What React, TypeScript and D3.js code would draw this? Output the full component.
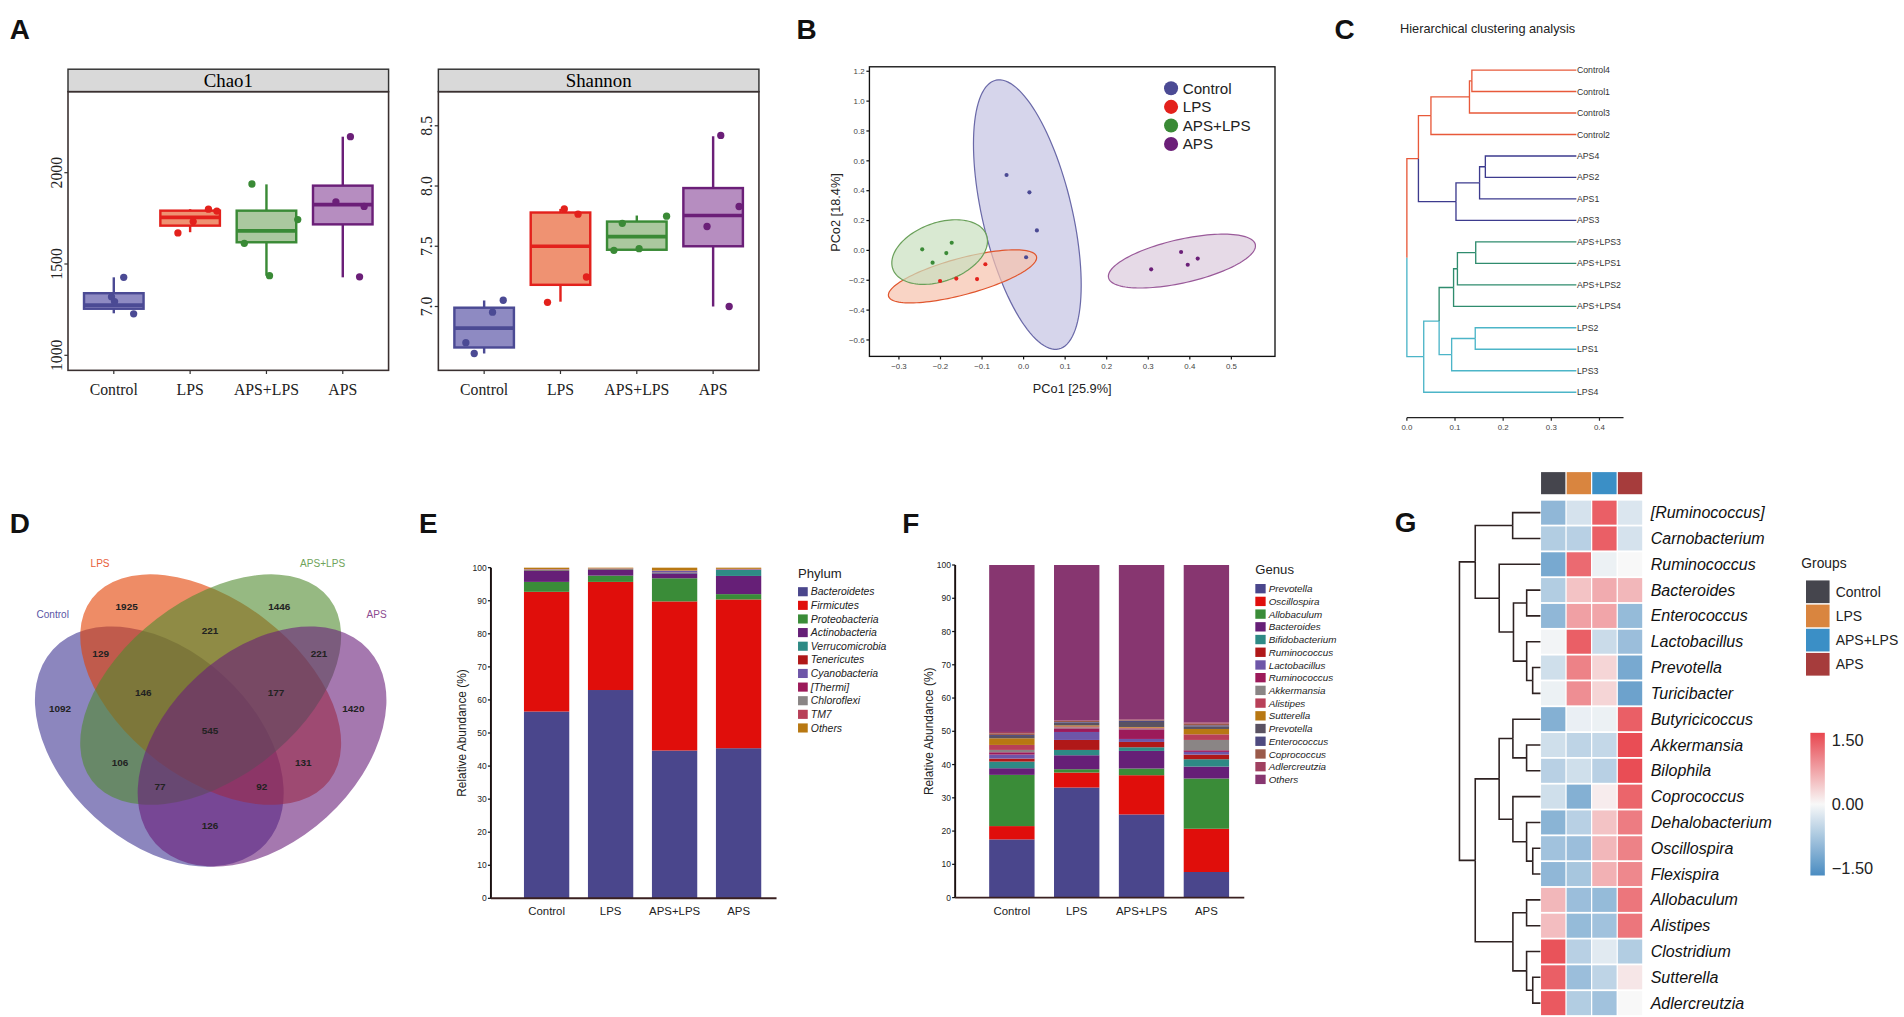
import React from "react";
import * as d3 from "d3";

// ---------- shared
const groups = ["Control", "LPS", "APS+LPS", "APS"];

// ---------- A: alpha diversity  [low whisker, Q1, median, Q3, high whisker]
const chao1Box = [
  [1230, 1255, 1275, 1340, 1427],
  [1674, 1710, 1755, 1792, 1800],
  [1436, 1619, 1681, 1792, 1936],
  [1427, 1717, 1825, 1929, 2197],
];
const chao1Dots = [
  [1427, 1320, 1294, 1227],
  [1670, 1732, 1800, 1790],
  [1938, 1743, 1613, 1436],
  [2197, 1840, 1815, 1430],
];
const chao1Jitter = [
  [0.13, -0.03, 0.01, 0.26],
  [-0.16, 0.04, 0.24, 0.35],
  [-0.19, 0.41, -0.29, 0.04],
  [0.1, -0.09, 0.28, 0.22],
];
const chao1Ticks = [1000, 1500, 2000];

const shannonBox = [
  [6.61, 6.66, 6.82, 6.99, 7.05],
  [7.04, 7.18, 7.5, 7.78, 7.81],
  [7.466, 7.471, 7.58, 7.705, 7.755],
  [7.0, 7.5, 7.755, 7.983, 8.413],
];
const shannonDots = [
  [7.052, 6.953, 6.7, 6.61],
  [7.81, 7.766, 7.245, 7.035],
  [7.69, 7.466, 7.48, 7.75],
  [8.42, 7.83, 7.664, 7.0],
];
const shannonJitter = [
  [0.25, 0.11, -0.24, -0.13],
  [0.05, 0.23, 0.34, -0.17],
  [-0.19, -0.3, 0.03, 0.39],
  [0.1, 0.34, -0.08, 0.21],
];
const shannonTicks = [7.0, 7.5, 8.0, 8.5];

// ---------- B: PCoA  [PCo1, PCo2]
const pcoaPoints = [
  [[-0.041, 0.505], [0.014, 0.389], [0.032, 0.134], [0.006, -0.046]],
  [[-0.201, -0.205], [-0.162, -0.189], [-0.112, -0.192], [-0.092, -0.093]],
  [[-0.244, 0.007], [-0.173, 0.051], [-0.186, -0.018], [-0.219, -0.082]],
  [[0.379, -0.011], [0.307, -0.127], [0.395, -0.096], [0.419, -0.055]],
];
// confidence ellipses: centre and two conjugate semi-axes, in PCo units
const pcoaEllipses = [
  { c: [0.009, 0.24], u: [-0.076, 0.9], v: [0.105, 0.069] },
  { c: [-0.147, -0.174], u: [0.178, 0.133], v: [0.0114, -0.118] },
  { c: [-0.202, -0.011], u: [0.1126, 0.114], v: [0.024, -0.184] },
  { c: [0.381, -0.0715], u: [0.1766, 0.1114], v: [0.0117, -0.142] },
];
const pcoXTicks = [-0.3, -0.2, -0.1, 0, 0.1, 0.2, 0.3, 0.4, 0.5];
const pcoYTicks = [-0.6, -0.4, -0.2, 0, 0.2, 0.4, 0.6, 0.8, 1.0, 1.2];

// ---------- C: hierarchical clustering of samples (h = distance from root)
const leafHeight = 0.352;
const sampleTree = {
  h: 0,
  c: [
    {
      h: 0.024, g: "Control",
      c: [
        { h: 0.05, c: [{ h: 0.13, c: [{ h: 0.135, c: [{ n: "Control4" }, { n: "Control1" }] }, { n: "Control3" }] }, { n: "Control2" }] },
        { h: 0.102, c: [{ h: 0.151, c: [{ h: 0.163, c: [{ n: "APS4" }, { n: "APS2" }] }, { n: "APS1" }] }, { n: "APS3" }] },
      ],
    },
    {
      h: 0.035, g: "LPS",
      c: [
        {
          h: 0.067, g: "LPS",
          c: [
            { h: 0.097, c: [{ h: 0.105, c: [{ h: 0.143, c: [{ n: "APS+LPS3" }, { n: "APS+LPS1" }] }, { n: "APS+LPS2" }] }, { n: "APS+LPS4" }] },
            { h: 0.093, c: [{ h: 0.142, c: [{ n: "LPS2" }, { n: "LPS1" }] }, { n: "LPS3" }] },
          ],
        },
        { n: "LPS4" },
      ],
    },
  ],
};
const clusterTicks = [0, 0.1, 0.2, 0.3, 0.4];

// ---------- D: Venn counts
const vennRegions = ["C", "L", "G", "A", "CL", "LG", "GA", "CG", "LA", "CA", "CLG", "LGA", "CGA", "CLA", "CLGA"];
const vennCounts = [1092, 1925, 1446, 1420, 129, 221, 221, 106, 131, 126, 146, 177, 77, 92, 545];

// ---------- E: phylum relative abundance (%)
const phyla = ["Bacteroidetes", "Firmicutes", "Proteobacteria", "Actinobacteria", "Verrucomicrobia", "Tenericutes", "Cyanobacteria", "[Thermi]", "Chloroflexi", "TM7", "Others"];
const phylumAbundance = [
  [56.5, 36.2, 3.0, 3.3, 0.2, 0.1, 0.1, 0.05, 0.05, 0.05, 0.45],
  [63.0, 32.7, 1.9, 1.7, 0.2, 0.1, 0.05, 0.05, 0.05, 0.05, 0.2],
  [44.7, 45.1, 7.0, 1.5, 0.2, 0.1, 0.4, 0.05, 0.05, 0.05, 0.85],
  [45.4, 45.0, 1.6, 5.5, 1.8, 0.1, 0.1, 0.05, 0.05, 0.05, 0.35],
];

// ---------- F: genus relative abundance (%)
const genera = ["Prevotella", "Oscillospira", "Allobaculum", "Bacteroides", "Bifidobacterium", "Ruminococcus", "Lactobacillus", "Ruminococcus", "Akkermansia", "Alistipes", "Sutterella", "Prevotella", "Enterococcus", "Coprococcus", "Adlercreutzia", "Others"];
const genusAbundance = [
  [17.5, 4.0, 15.4, 2.0, 2.0, 0.9, 1.2, 0.7, 0.7, 1.5, 2.0, 0.7, 0.3, 0.5, 0.4, 50.2],
  [33.1, 4.5, 1.0, 4.2, 1.6, 3.0, 2.4, 1.1, 0.3, 0.3, 0.3, 0.8, 0.2, 0.3, 0.2, 46.7],
  [25.0, 11.8, 2.0, 5.3, 1.1, 1.6, 0.9, 2.9, 0.2, 0.3, 0.2, 1.5, 0.4, 0.2, 0.2, 46.4],
  [7.7, 13.0, 15.1, 3.6, 2.2, 1.4, 0.8, 0.5, 3.1, 1.7, 1.6, 0.8, 0.3, 0.5, 0.4, 47.3],
];
const abundanceTicks = [0, 10, 20, 30, 40, 50, 60, 70, 80, 90, 100];

// ---------- G: heatmap (row z-scores, columns = groups)
const heatRows = ["[Ruminococcus]", "Carnobacterium", "Ruminococcus", "Bacteroides", "Enterococcus", "Lactobacillus", "Prevotella", "Turicibacter", "Butyricicoccus", "Akkermansia", "Bilophila", "Coprococcus", "Dehalobacterium", "Oscillospira", "Flexispira", "Allobaculum", "Alistipes", "Clostridium", "Sutterella", "Adlercreutzia"];
const heatValues = [
  [-0.9, -0.3, 1.3, -0.25],
  [-0.6, -0.55, 1.3, -0.3],
  [-1.1, 1.2, -0.1, 0.0],
  [-0.6, 0.45, 0.65, 0.55],
  [-0.9, 0.75, 0.7, -0.85],
  [-0.05, 1.3, -0.4, -0.8],
  [-0.35, 1.0, 0.3, -1.1],
  [-0.1, 0.9, 0.3, -1.2],
  [-1.0, -0.12, -0.1, 1.3],
  [-0.35, -0.5, -0.45, 1.45],
  [-0.55, -0.35, -0.55, 1.45],
  [-0.35, -1.0, 0.1, 1.25],
  [-0.95, -0.55, 0.45, 1.05],
  [-0.75, -0.8, 0.55, 1.0],
  [-0.9, -0.7, 0.6, 0.95],
  [0.55, -0.8, -0.85, 1.1],
  [0.5, -0.85, -0.75, 1.1],
  [1.4, -0.55, -0.2, -0.6],
  [1.3, -0.8, -0.5, 0.15],
  [1.35, -0.6, -0.75, 0.0],
];
// row dendrogram, h = merge height
const genusTree = {
  h: 10,
  c: [
    {
      h: 8.05,
      c: [
        { h: 3.43, c: ["[Ruminococcus]", "Carnobacterium"] },
        {
          h: 5.09,
          c: [
            "Ruminococcus",
            { h: 3.33, c: [{ h: 1.7, c: ["Bacteroides", "Enterococcus"] }, { h: 1.7, c: ["Lactobacillus", { h: 0.96, c: ["Prevotella", "Turicibacter"] }] }] },
          ],
        },
      ],
    },
    {
      h: 8.05,
      c: [
        {
          h: 5.1,
          c: [
            { h: 3.4, c: ["Butyricicoccus", { h: 1.71, c: ["Akkermansia", "Bilophila"] }] },
            { h: 3.4, c: ["Coprococcus", { h: 1.71, c: ["Dehalobacterium", { h: 0.95, c: ["Oscillospira", "Flexispira"] }] }] },
          ],
        },
        { h: 3.4, c: [{ h: 1.71, c: ["Allobaculum", "Alistipes"] }, { h: 1.71, c: ["Clostridium", { h: 0.95, c: ["Sutterella", "Adlercreutzia"] }] }] },
      ],
    },
  ],
};
const zLegend = [1.5, 0, -1.5];

// ---------- styles
const serif = "'Liberation Serif', 'Times New Roman', serif";
const sans = "'Liberation Sans', Arial, sans-serif";
const groupColor = ["#4b4a94", "#e3211c", "#3a8a36", "#6b1f78"];
const boxFill = ["#8e8ac2", "#ef9272", "#abc89f", "#b68dc0"];
const ellFill = ["#c4c3e2", "#f6c2ad", "#c9e0bf", "#dccbdd"];
const ellStroke = ["#6a69a8", "#e0562e", "#6aa05a", "#9a5a9a"];
const clusterColor: Record<string, string> = { Control: "#e8593a", APS: "#3d3b8e", "APS+LPS": "#2f8c6e", LPS: "#4cb5c8" };
const phylumColor = ["#4a468c", "#e00e0b", "#3a8c38", "#661f77", "#2e8a85", "#b01818", "#6e56a8", "#9c1a5a", "#8a8585", "#b84058", "#b87812"];
const genusColor = ["#4a468c", "#e00e0b", "#3a8c38", "#661f77", "#2e8a85", "#b01818", "#6e56a8", "#9c1a5a", "#8a8585", "#b84058", "#b87812", "#5a5262", "#4e4a80", "#9a5a4a", "#a04060", "#873670"];
const headColor = ["#45454d", "#d9853f", "#3b8fc6", "#a63c3c"];
const zColor = d3.scaleLinear<string>().domain([-1.5, 0, 1.5]).range(["#4a8cc1", "#f8f8f8", "#e8474f"]).clamp(true);

// lay a tree out with d3.cluster, then stretch so first/last leaf hit [y0, y1]
function layoutTree(data: any, children: (d: any) => any, y0: number, y1: number) {
  const root = d3.hierarchy<any>(data, children);
  d3.cluster<any>().size([1, 1]).separation(() => 1)(root);
  const leaves = root.leaves();
  const ys = d3.scaleLinear().domain([leaves[0].x as number, leaves[leaves.length - 1].x as number]).range([y0, y1]);
  root.each((n: any) => { n.py = ys(n.x); });
  return root;
}

function AlphaPanel({ x0, title, box, dots, jitter, domain, ticks, fmt }: any) {
  const w = 264, head = 57, top = 75.5, bottom = 305;
  const x = d3.scaleLinear().domain([0.4, 4.6]).range([x0, x0 + w]);
  const y = d3.scaleLinear().domain(domain).range([bottom, top]);
  const hw = 0.39;
  return (
    <g>
      <rect x={x0} y={head} width={w} height={top - head} fill="#d9d9d9" stroke="#333" strokeWidth={1.2} />
      <text x={x0 + w / 2} y={(head + top) / 2 + 5.5} textAnchor="middle" fontFamily={serif} fontSize={15.5}>{title}</text>
      {ticks.map((t: number) => (
        <g key={t}>
          <line x1={x0 - 3} x2={x0} y1={y(t)} y2={y(t)} stroke="#333" strokeWidth={1} />
          <text transform={`translate(${x0 - 5},${y(t)}) rotate(-90)`} textAnchor="middle" fontFamily={serif} fontSize={13} fill="#222">{fmt(t)}</text>
        </g>
      ))}
      {groups.map((g, i) => {
        const cx = x(i + 1);
        const [lo, q1, md, q3, hi] = box[i];
        const col = groupColor[i];
        return (
          <g key={g}>
            <line x1={cx} x2={cx} y1={y(hi)} y2={y(q3)} stroke={col} strokeWidth={2} />
            <line x1={cx} x2={cx} y1={y(q1)} y2={y(lo)} stroke={col} strokeWidth={2} />
            <rect x={x(i + 1 - hw)} y={y(q3)} width={x(i + 1 + hw) - x(i + 1 - hw)} height={y(q1) - y(q3)} fill={boxFill[i]} stroke={col} strokeWidth={2} />
            <line x1={x(i + 1 - hw)} x2={x(i + 1 + hw)} y1={y(md)} y2={y(md)} stroke={col} strokeWidth={3} />
            {dots[i].map((v: number, j: number) => (
              <circle key={j} cx={x(i + 1 + jitter[i][j])} cy={y(v)} r={3} fill={col} />
            ))}
            <line x1={cx} x2={cx} y1={bottom} y2={bottom + 3} stroke="#333" />
            <text x={cx} y={bottom + 20} textAnchor="middle" fontFamily={serif} fontSize={13} fill="#222">{g}</text>
          </g>
        );
      })}
      <rect x={x0} y={top} width={w} height={bottom - top} fill="none" stroke="#3a3030" strokeWidth={1.3} />
    </g>
  );
}

function PcoaPanel() {
  const x = d3.scaleLinear().domain([-0.371, 0.605]).range([716, 1050]);
  const y = d3.scaleLinear().domain([-0.71, 1.23]).range([293.5, 55]);
  const line = d3.line<number[]>().x((p) => x(p[0])).y((p) => y(p[1])).curve(d3.curveLinearClosed);
  const ts = d3.range(0, 2 * Math.PI, Math.PI / 60);
  return (
    <g fontFamily={sans}>
      {pcoaEllipses.map((e, i) => {
        const pts = ts.map((t) => [e.c[0] + e.u[0] * Math.cos(t) + e.v[0] * Math.sin(t), e.c[1] + e.u[1] * Math.cos(t) + e.v[1] * Math.sin(t)]);
        return <path key={i} d={line(pts) || ""} fill={ellFill[i]} fillOpacity={0.7} stroke={ellStroke[i]} strokeWidth={1} />;
      })}
      {pcoaPoints.map((ps, i) => ps.map((p, j) => <circle key={i + "-" + j} cx={x(p[0])} cy={y(p[1])} r={1.7} fill={groupColor[i]} />))}
      <rect x={716} y={55} width={334} height={238.5} fill="none" stroke="#111" strokeWidth={1.1} />
      {pcoYTicks.map((t) => (
        <g key={t}>
          <line x1={713.5} x2={716} y1={y(t)} y2={y(t)} stroke="#111" />
          <text x={712} y={y(t) + 2.3} textAnchor="end" fontSize={6.5} fill="#444">{d3.format(".1f")(t)}</text>
        </g>
      ))}
      {pcoXTicks.map((t) => (
        <g key={t}>
          <line x1={x(t)} x2={x(t)} y1={293.5} y2={296} stroke="#111" />
          <text x={x(t)} y={304} textAnchor="middle" fontSize={6.5} fill="#444">{d3.format(".1f")(t)}</text>
        </g>
      ))}
      <text transform="translate(692,175) rotate(-90)" textAnchor="middle" fontSize={10.5} fill="#222">PCo2 [18.4%]</text>
      <text x={883} y={324} textAnchor="middle" fontSize={10.5} fill="#222">PCo1 [25.9%]</text>
      {groups.map((g, i) => (
        <g key={g}>
          <circle cx={964.4} cy={72.7 + i * 15.3} r={5.8} fill={groupColor[i]} />
          <text x={974} y={72.7 + i * 15.3 + 4.4} fontSize={12.5} fill="#222">{g}</text>
        </g>
      ))}
    </g>
  );
}

function ClusterPanel() {
  const root = layoutTree(sampleTree, (d) => d.c, 57.7, 323);
  const hx = d3.scaleLinear().domain([0, 0.4]).range([1158.6, 1317.2]);
  const grpOf = (n: any): string => n.data.g || (n.data.n ? n.data.n.replace(/\d+$/, "") : grpOf(n.leaves()[0]));
  const xOf = (n: any) => hx(n.data.n ? leafHeight : n.data.h);
  return (
    <g fontFamily={sans}>
      <text x={1153} y={27} fontSize={10.5} fill="#222">Hierarchical clustering analysis</text>
      {root.descendants().slice(1).map((n: any, i) => (
        <path key={i} d={`M${xOf(n.parent)},${n.parent.py}V${n.py}H${xOf(n)}`} fill="none" stroke={clusterColor[grpOf(n)]} strokeWidth={1.1} />
      ))}
      {root.leaves().map((n: any) => (
        <text key={n.data.n} x={hx(leafHeight) + 0.5} y={n.py + 2.5} fontSize={7.2} fill="#333">{n.data.n}</text>
      ))}
      <line x1={hx(0)} x2={hx(0.45)} y1={344} y2={344} stroke="#222" strokeWidth={1} />
      {clusterTicks.map((t) => (
        <g key={t}>
          <line x1={hx(t)} x2={hx(t)} y1={344} y2={346.5} stroke="#222" />
          <text x={hx(t)} y={354} textAnchor="middle" fontSize={6.5} fill="#444">{d3.format(".1f")(t)}</text>
        </g>
      ))}
    </g>
  );
}

function VennPanel() {
  // fixed four-ellipse layout
  const shapes = [
    { cx: 131.2, cy: 614.8, a: 118.6, b: 78.8, r: 42.4, fill: "#3f3593" },
    { cx: 173.5, cy: 567.9, a: 123.2, b: 73.3, r: 37.5, fill: "#e33f00" },
    { cx: 173.5, cy: 567.9, a: 123.2, b: 73.3, r: -37.5, fill: "#508a2f" },
    { cx: 215.8, cy: 614.8, a: 118.6, b: 78.8, r: -42.4, fill: "#691e7a" },
  ];
  const labelPos: Record<string, number[]> = {
    C: [49.4, 583.4], L: [104.3, 499.6], G: [230, 499.6], A: [291, 583.4],
    CL: [82.9, 538.1], LG: [172.9, 518.9], GA: [262.7, 538.1], CG: [98.8, 628.1], LA: [249.8, 628.1], CA: [172.9, 679.4],
    CLG: [118, 570.2], LGA: [227.3, 570.2], CGA: [131.8, 647.3], CLA: [215.5, 647.3], CLGA: [172.9, 601.8],
  };
  const names = [
    { t: "Control", x: 43.4, y: 506, c: "#5a55a5" },
    { t: "LPS", x: 82.4, y: 464, c: "#e8603a" },
    { t: "APS+LPS", x: 265.7, y: 464, c: "#6fa35a" },
    { t: "APS", x: 310.2, y: 506, c: "#8c4a90" },
  ];
  return (
    <g fontFamily={sans}>
      {shapes.map((s, i) => (
        <ellipse key={i} cx={s.cx} cy={s.cy} rx={s.a} ry={s.b} transform={`rotate(${s.r},${s.cx},${s.cy})`} fill={s.fill} fillOpacity={0.6} />
      ))}
      {names.map((n) => (
        <text key={n.t} x={n.x} y={n.y + 3} textAnchor="middle" fontSize={8.3} fill={n.c}>{n.t}</text>
      ))}
      {vennRegions.map((r, i) => (
        <text key={r} x={labelPos[r][0]} y={labelPos[r][1] + 3} textAnchor="middle" fontSize={8.2} fontWeight="bold" fill="#222">{vennCounts[i]}</text>
      ))}
    </g>
  );
}

function StackPanel({ keys, values, colors, title, axisX, axisEnd, yTop, yBottom, bandRange, pad, legendX, legendTitleY, legendY0, legendStep, swW, swH, itemSize, titleX }: any) {
  const y = d3.scaleLinear().domain([0, 100]).range([yBottom, yTop]);
  const x = d3.scaleBand().domain(groups).range(bandRange).paddingInner(pad).paddingOuter(pad / 2);
  const rows = values.map((v: number[]) => Object.fromEntries(v.map((d, j) => [j, d])));
  const series = d3.stack<any>().keys(keys.map((_: string, j: number) => String(j)))(rows);
  return (
    <g fontFamily={sans}>
      {series.map((s, j) => s.map((d, i) => (
        <rect key={j + "-" + i} x={x(groups[i])} y={y(d[1])} width={x.bandwidth()} height={Math.max(0, y(d[0]) - y(d[1]))} fill={colors[j]} />
      )))}
      <line x1={axisX} x2={axisX} y1={yTop} y2={yBottom} stroke="#1a1010" strokeWidth={1.6} />
      <line x1={axisX} x2={axisEnd} y1={yBottom} y2={yBottom} stroke="#3a2020" strokeWidth={1.6} />
      {abundanceTicks.map((t) => (
        <g key={t}>
          <line x1={axisX - 2.5} x2={axisX} y1={y(t)} y2={y(t)} stroke="#111" />
          <text x={axisX - 3.5} y={y(t) + 2.5} textAnchor="end" fontSize={7} fill="#222">{t}</text>
        </g>
      ))}
      {groups.map((g) => (
        <text key={g} x={(x(g) || 0) + x.bandwidth() / 2} y={yBottom + 14} textAnchor="middle" fontSize={9.4} fill="#222">{g}</text>
      ))}
      <text transform={`translate(${titleX},${(yTop + yBottom) / 2}) rotate(-90)`} textAnchor="middle" fontSize={9.8} fill="#222">Relative Abundance (%)</text>
      <text x={legendX} y={legendTitleY} fontSize={10.8} fill="#222">{title}</text>
      {keys.map((k: string, j: number) => (
        <g key={j}>
          <rect x={legendX} y={legendY0 + j * legendStep - swH / 2} width={swW} height={swH} fill={colors[j]} />
          <text x={legendX + swW + 2.5} y={legendY0 + j * legendStep + 3} fontSize={itemSize} fontStyle="italic" fill="#222">{k}</text>
        </g>
      ))}
    </g>
  );
}

function HeatPanel() {
  const y = d3.scaleBand().domain(heatRows).range([412.3, 836]).paddingInner(0.07);
  const x = d3.scaleBand().domain(groups).range([1269.1, 1352.4]).paddingInner(0.05);
  const y0 = (y(heatRows[0]) || 0) + y.bandwidth() / 2;
  const y1 = (y(heatRows[heatRows.length - 1]) || 0) + y.bandwidth() / 2;
  const root = layoutTree(genusTree, (d) => (typeof d === "string" ? null : d.c), y0, y1);
  const hx = d3.scaleLinear().domain([0, 10]).range([1268.6, 1201.9]);
  const hOf = (n: any) => (typeof n.data === "string" ? 0 : n.data.h);
  const zy = d3.scaleLinear().domain([-1.5, 1.5]).range([721, 603.5]);
  return (
    <g fontFamily={sans}>
      <defs>
        <linearGradient id="zbar" x1="0" y1="0" x2="0" y2="1">
          {d3.range(0, 1.0001, 0.1).map((t) => (
            <stop key={t} offset={t} stopColor={zColor(1.5 - 3 * t)} />
          ))}
        </linearGradient>
      </defs>
      {root.descendants().slice(1).map((n: any, i) => (
        <path key={i} d={`M${hx(hOf(n.parent))},${n.parent.py}V${n.py}H${hx(hOf(n))}`} fill="none" stroke="#2e2222" strokeWidth={1.3} />
      ))}
      {groups.map((g, j) => (
        <rect key={g} x={x(g)} y={388.8} width={x.bandwidth()} height={18.2} fill={headColor[j]} />
      ))}
      {heatRows.map((r, i) => (
        <g key={r}>
          {heatValues[i].map((v, j) => (
            <rect key={j} x={x(groups[j])} y={y(r)} width={x.bandwidth()} height={y.bandwidth()} fill={zColor(v)} />
          ))}
          <text x={1359.4} y={(y(r) || 0) + y.bandwidth() / 2 + 4.6} fontSize={13.2} fontStyle="italic" fill="#111">{r}</text>
        </g>
      ))}
      <text x={1483.4} y={467.5} fontSize={11.4} fill="#222">Groups</text>
      {groups.map((g, j) => (
        <g key={g}>
          <rect x={1487.3} y={478 + j * 19.9} width={19.4} height={18.7} fill={headColor[j]} />
          <text x={1511.8} y={478 + j * 19.9 + 13.3} fontSize={11.5} fill="#222">{g}</text>
        </g>
      ))}
      <rect x={1490.9} y={603.5} width={11.9} height={117.5} fill="url(#zbar)" />
      {zLegend.map((v) => (
        <text key={v} x={1508.5} y={zy(v) + (v > 0 ? 11 : v < 0 ? -1 : 5)} fontSize={13.5} fill="#222">{d3.format(".2f")(v)}</text>
      ))}
    </g>
  );
}

export default function App() {
  const S = 1904 / 1568;
  const letters = [
    ["A", 8, 32], ["B", 656, 32], ["C", 1099, 32], ["D", 8, 439], ["E", 345, 439], ["F", 743, 439], ["G", 1148.7, 438],
  ] as const;
  return (
    <div style={{ position: "absolute", left: 0, top: 0 }}>
      <svg width={1904} height={1017} style={{ display: "block", background: "#fff" }}>
        <g transform={`scale(${S})`}>
          {letters.map(([t, lx, ly]) => (
            <text key={t} x={lx} y={ly} fontFamily={sans} fontWeight="bold" fontSize={23} fill="#111">{t}</text>
          ))}
          <AlphaPanel x0={56} title="Chao1" box={chao1Box} dots={chao1Dots} jitter={chao1Jitter} domain={[917.6, 2443.5]} ticks={chao1Ticks} fmt={(t: number) => String(t)} />
          <AlphaPanel x0={361} title="Shannon" box={shannonBox} dots={shannonDots} jitter={shannonJitter} domain={[6.47, 8.783]} ticks={shannonTicks} fmt={d3.format(".1f")} />
          <PcoaPanel />
          <ClusterPanel />
          <VennPanel />
          <StackPanel keys={phyla} values={phylumAbundance} colors={phylumColor} title="Phylum" axisX={404.3} axisEnd={639.5} yTop={467.5} yBottom={739.8} bandRange={[423.8, 634.6]} pad={0.292} legendX={657.2} legendTitleY={476} legendY0={487.3} legendStep={11.22} swW={8} swH={7.5} itemSize={8.6} titleX={383.5} />
          <StackPanel keys={genera} values={genusAbundance} colors={genusColor} title="Genus" axisX={786.6} axisEnd={1024.7} yTop={465.3} yBottom={739.2} bandRange={[806.6, 1020.2]} pad={0.3} legendX={1033.8} legendTitleY={472.7} legendY0={484.8} legendStep={10.47} swW={8.5} swH={7.7} itemSize={8.1} titleX={768.5} />
          <HeatPanel />
        </g>
      </svg>
    </div>
  );
}
